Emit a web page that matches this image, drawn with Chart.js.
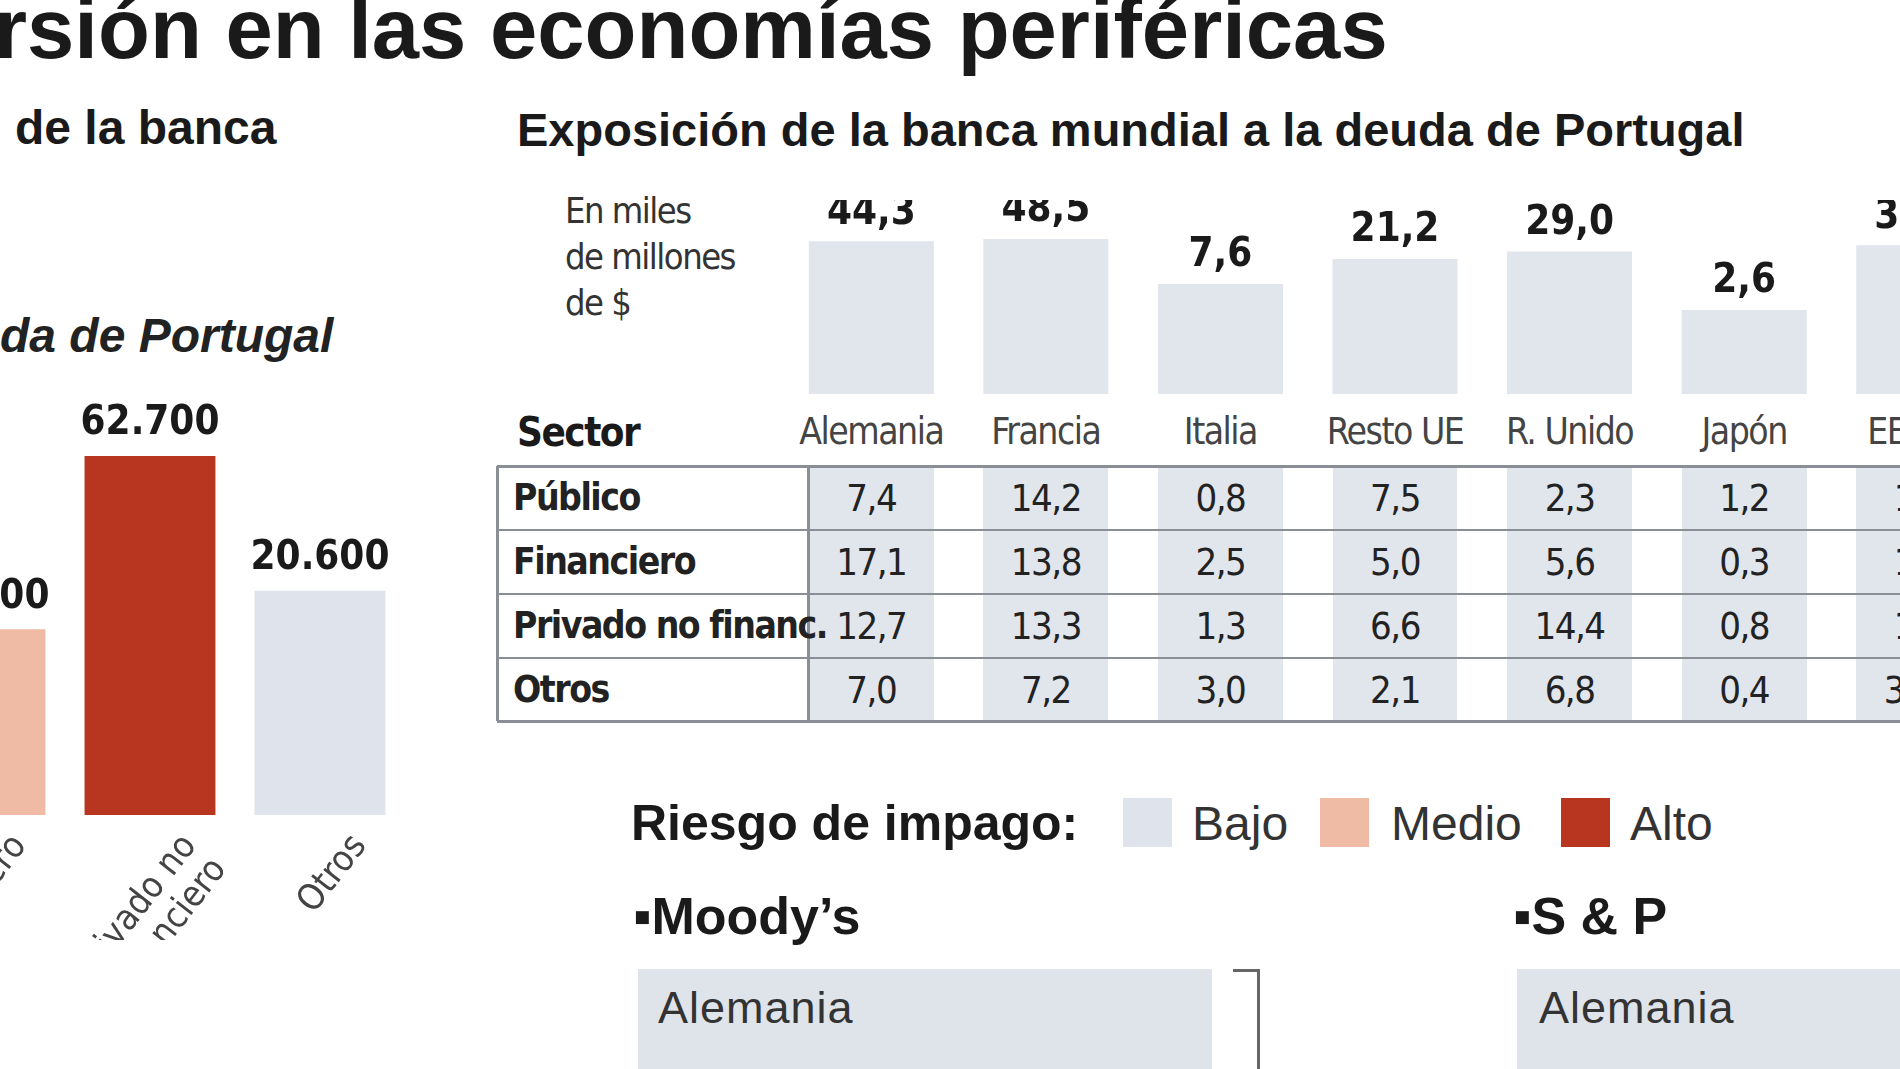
<!DOCTYPE html>
<html><head><meta charset="utf-8">
<script src="https://cdn.jsdelivr.net/npm/chart.js@4"></script>
<style>
html,body{margin:0;padding:0;width:1900px;height:1069px;overflow:hidden;background:#fff;font-family:"Liberation Sans",Arial,sans-serif;color:#1a1a1a}
.abs{position:absolute;white-space:nowrap}
.cond{font-family:"DejaVu Sans Condensed","DejaVu Sans",sans-serif;font-stretch:condensed;letter-spacing:-1.5px}
</style></head><body>
<div class="abs" style="left:-6px;top:-14px;font-size:85px;font-weight:bold;line-height:1">rsión en las economías periféricas</div>
<div class="abs" style="left:15px;top:104px;font-size:48px;font-weight:bold;line-height:1">de la banca</div>
<div class="abs" style="left:0px;top:312px;font-size:48px;font-weight:bold;font-style:italic;line-height:1;color:#222">da de Portugal</div>
<div class="abs" style="left:517px;top:106px;font-size:47px;font-weight:bold;line-height:1">Exposición de la banca mundial a la deuda de Portugal</div>
<div class="abs cond" style="left:565px;top:188px;font-size:36px;line-height:46px;color:#333">En miles<br>de millones<br>de $</div>

<div class="abs" style="left:-105px;top:380px;width:510px;height:560px"><canvas id="leftc"></canvas></div>
<div class="abs" style="left:784px;top:200px;width:1222px;height:194px"><canvas id="topc"></canvas></div>
<div id="tbl"></div>

<div class="abs" style="left:631px;top:798px;font-size:50px;font-weight:bold;line-height:1">Riesgo de impago:</div>
<div class="abs" style="left:1123px;top:798px;width:49px;height:49px;background:#dfe4ec"></div>
<div class="abs" style="left:1192px;top:800px;font-size:48px;line-height:1;color:#333">Bajo</div>
<div class="abs" style="left:1320px;top:798px;width:49px;height:49px;background:#f0bba5"></div>
<div class="abs" style="left:1391px;top:800px;font-size:48px;line-height:1;color:#333">Medio</div>
<div class="abs" style="left:1561px;top:798px;width:49px;height:49px;background:#b83520"></div>
<div class="abs" style="left:1630px;top:800px;font-size:48px;line-height:1;color:#333">Alto</div>

<div class="abs" style="left:633px;top:890px;font-size:52px;font-weight:bold;line-height:1">▪Moody’s</div>
<div class="abs" style="left:638px;top:969px;width:574px;height:120px;background:#dfe3ea"></div>
<div class="abs" style="left:658px;top:985px;font-size:45px;letter-spacing:1px;line-height:1;color:#333">Alemania</div>
<div class="abs" style="left:1233px;top:969px;width:24px;height:120px;border-top:3px solid #666;border-right:3px solid #666"></div>
<div class="abs" style="left:1513px;top:890px;font-size:52px;font-weight:bold;line-height:1">▪S &amp; P</div>
<div class="abs" style="left:1517px;top:969px;width:400px;height:120px;background:#dfe3ea"></div>
<div class="abs" style="left:1539px;top:985px;font-size:45px;letter-spacing:1px;line-height:1;color:#333">Alemania</div>

<script>
// Left chart: exposure by sector (risk colours)
const sectorCats = ["Financiero", "Privado no financiero", "Otros"];
const sectorLabels = [["Financiero"], ["Privado no", "financiero"], ["Otros"]];
const sectorValues = [15000, 62700, 20600];
const sectorText = ["15.000", "62.700", "20.600"];
const sectorRisk = ["#f0bba5", "#b83520", "#dfe4ec"];

// Top chart: exposure by country
const countries = ["Alemania", "Francia", "Italia", "Resto UE", "R. Unido", "Japón", "EE.UU."];
const totals = [44.3, 48.5, 7.6, 21.2, 29.0, 2.6, 37.5];
const totalText = ["44,3", "48,5", "7,6", "21,2", "29,0", "2,6", "37,5"];
const sectors = ["Público", "Financiero", "Privado no financ.", "Otros"];
const publico    = ["7,4", "14,2", "0,8", "7,5", "2,3", "1,2", "1,0"];
const financiero = ["17,1", "13,8", "2,5", "5,0", "5,6", "0,3", "1,4"];
const privado    = ["12,7", "13,3", "1,3", "6,6", "14,4", "0,8", "1,3"];
const otros      = ["7,0", "7,2", "3,0", "2,1", "6,8", "0,4", "33,8"];

const CF = '"DejaVu Sans Condensed","DejaVu Sans", sans-serif';
const labelPlugin = {
  id: 'vals',
  afterDatasetsDraw(chart, args, opts) {
    const ctx = chart.ctx;
    const meta = chart.getDatasetMeta(0);
    ctx.save();
    try { ctx.fontStretch = 'condensed'; } catch (e) {}
    ctx.fillStyle = '#1a1a1a';
    ctx.font = opts.font;
    ctx.textAlign = 'center';
    ctx.textBaseline = 'bottom';
    meta.data.forEach((b, i) => ctx.fillText(opts.texts[i], b.x, b.y - opts.gap));
    if (opts.cats) {
      ctx.font = '36px ' + CF;
      ctx.fillStyle = '#444';
      meta.data.forEach((b, i) => {
        ctx.save();
        ctx.translate(b.x + 40, chart.chartArea.bottom + 25);
        ctx.rotate(-52 * Math.PI / 180);
        ctx.textAlign = 'right'; ctx.textBaseline = 'middle';
        opts.cats[i].forEach((l, k) => ctx.fillText(l, 0, k * 38));
        ctx.restore();
      });
    }
    ctx.restore();
  }
};

const leftChart = new Chart(document.getElementById('leftc'), {
  type: 'bar',
  data: { labels: sectorCats, datasets: [{ data: sectorValues, backgroundColor: sectorRisk, barPercentage: 0.77, categoryPercentage: 1 }] },
  options: {
    responsive: true, maintainAspectRatio: false, animation: false,
    layout: { padding: { top: 76, bottom: 125 } },
    plugins: { legend: { display: false }, tooltip: { enabled: false },
      vals: { texts: sectorText, gap: 12, font: 'bold 40px ' + CF, cats: sectorLabels } },
    scales: { x: { display: false }, y: { display: false, type: 'logarithmic', min: 3240, max: 62700 } }
  },
  plugins: [labelPlugin]
});

const topChart = new Chart(document.getElementById('topc'), {
  type: 'bar',
  data: { labels: countries, datasets: [{ data: totals, backgroundColor: '#e1e5ec', barPercentage: 0.716, categoryPercentage: 1 }] },
  options: {
    responsive: true, maintainAspectRatio: false, animation: false,
    layout: { padding: { top: 39 } },
    plugins: { legend: { display: false }, tooltip: { enabled: false },
      vals: { texts: totalText, gap: 8, font: 'bold 40px ' + CF } },
    scales: { x: { display: false }, y: { display: false, type: 'logarithmic', min: 0.0815, max: 48.5 } }
  },
  plugins: [labelPlugin]
});

// Table aligned to the top chart's x scale
const tbl = document.getElementById('tbl');
const offX = 784;
const xs = topChart.scales.x;
const colW = (xs.getPixelForValue(1) - xs.getPixelForValue(0)) * 0.716;
const rows = [publico, financiero, privado, otros];
const rowTop = [466, 530, 594, 658], rowH = 64;
function div(css, html, cls) { const d = document.createElement('div'); d.className = cls || 'abs'; d.style.cssText = css; d.innerHTML = html || ''; tbl.appendChild(d); return d; }
countries.forEach((c, i) => {
  const cx = offX + xs.getPixelForValue(i);
  div(`left:${cx - colW/2}px;top:466px;width:${colW}px;height:255px;background:#e1e5ec`);
  div(`left:${cx - 100}px;top:410px;width:200px;text-align:center;font-size:37px;line-height:44px;color:#444`, c, 'abs cond');
});
rowTop.concat([721]).forEach((y, k) => div(`left:497px;top:${y - 1}px;width:1500px;height:0;border-top:${k===0||k===4?3:2}px solid #8a8f96`));
div(`left:496px;top:466px;width:0;height:255px;border-left:3px solid #8a8f96`);
div(`left:807px;top:466px;width:0;height:255px;border-left:3px solid #8a8f96`);
div(`left:517px;top:410px;font-size:40px;font-weight:bold;line-height:44px`, 'Sector', 'abs cond');
sectors.forEach((s, r) => {
  div(`left:513px;top:${rowTop[r]}px;font-size:37px;line-height:${rowH}px;font-weight:bold;color:#222`, s, 'abs cond');
  rows[r].forEach((v, i) => {
    const cx = offX + xs.getPixelForValue(i);
    div(`left:${cx - 80}px;top:${rowTop[r]}px;width:160px;font-size:38px;line-height:${rowH}px;text-align:center;color:#222`, v, 'abs cond');
  });
});
</script>
</body></html>
